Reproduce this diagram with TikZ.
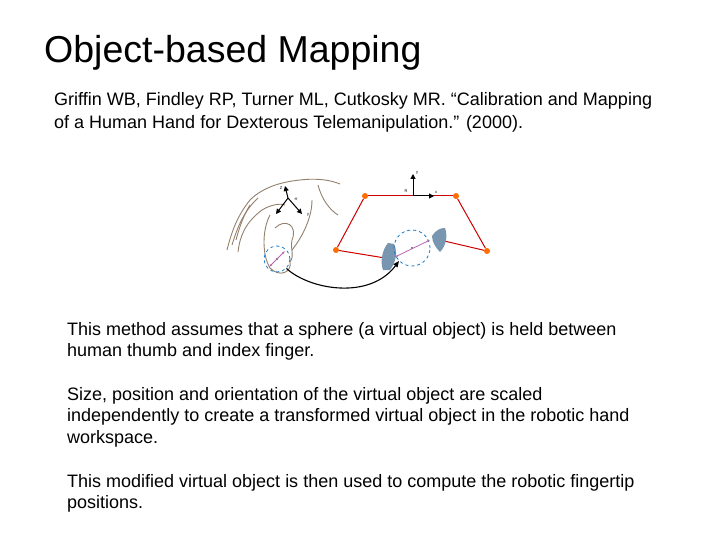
\documentclass[tikz,border=0pt]{standalone}
\usepackage{fontspec}
\setmainfont{Liberation Sans}
\usetikzlibrary{arrows.meta}
\definecolor{fingc}{RGB}{120,150,175}
\begin{document}
\begin{tikzpicture}[x=1pt,y=-1pt,
  txt/.style={anchor=north west,inner sep=0pt,align=left,font=\fontsize{18}{21.5}\selectfont},
  joint/.style={circle,fill=orange!85!red,inner sep=0pt,minimum size=6pt},
  link/.style={red!80!black,line width=1pt},
  hand/.style={gray!70!brown,line width=0.9pt},
  frame/.style={-{Triangle[length=5pt,width=5pt]},line width=1pt},
  grip/.style={draw=cyan!60!blue,dashed,line width=0.8pt},
  fing/.style={fill=fingc,draw=none}]
\useasboundingbox (0,0) rectangle (720,540);
\node[anchor=west,inner sep=0pt,font=\fontsize{37.5}{40}\selectfont] (title) at (44,53) {Object-based Mapping};
\node[txt,font=\fontsize{18}{23}\selectfont] (cite) at (54,92) {Griffin WB, Findley RP, Turner ML, Cutkosky MR. “Calibration and Mapping\\of a Human Hand for Dexterous Telemanipulation.” (2000).};
\node[txt] (p1) at (67,322) {This method assumes that a sphere (a virtual object) is held between\\human thumb and index finger.};
\node[txt] (p2) at (67,387) {Size, position and orientation of the virtual object are scaled\\independently to create a transformed virtual object in the robotic hand\\workspace.};
\node[txt] (p3) at (67,474) {This modified virtual object is then used to compute the robotic fingertip\\positions.};
% hand outline
\draw[hand] (227,250) .. controls (232,230) and (238,215) .. (250,200) .. controls (262,188) and (280,182) .. (300,180) .. controls (318,178) and (330,180) .. (340,184);
\draw[hand] (232,245) .. controls (238,225) and (245,210) .. (258,198);
\draw[hand] (238,252) .. controls (240,235) and (246,222) .. (262,210) .. controls (270,205) and (280,203) .. (285,205);
\draw[hand] (270,215) .. controls (262,230) and (262,255) .. (270,268) .. controls (280,278) and (292,272) .. (290,262);
\draw[hand] (275,228) .. controls (285,218) and (298,225) .. (292,240) .. controls (290,250) and (295,255) .. (290,262);
\draw[hand] (318,185) .. controls (322,200) and (330,210) .. (338,215);
\draw[hand] (312,200) .. controls (312,220) and (300,240) .. (292,250);
\draw[hand] (250,205) .. controls (244,215) and (240,225) .. (236,240);
% hand frame
\coordinate (ho) at (288,198);
\coordinate (hz) at (285,186);
\coordinate (hx) at (276,214);
\coordinate (hy) at (302,214);
\draw[frame] (ho) -- (hz); \draw[frame] (ho) -- (hx); \draw[frame] (ho) -- (hy);
\node[font=\fontsize{4}{4}\selectfont,inner sep=0pt] (hzl) at (281,188) {Z};
\node[font=\fontsize{4}{4}\selectfont,inner sep=0pt] (hol) at (296,199) {$\pi$};
\node[font=\fontsize{4}{4}\selectfont,inner sep=0pt] (hyl) at (308,215) {y};
% hand sphere
\node[circle,grip,minimum size=26pt,inner sep=0pt] (hs) at (277,259) {};
\node[fill=gray,inner sep=1.3pt] (hc) at (277,259) {};
\draw[violet!60,{Latex[length=3pt]}-{Latex[length=3pt]},line width=0.8pt] (269,267) -- (285,251);
% robot
\node[joint] (j1) at (365,196) {};
\node[joint] (j2) at (456,196) {};
\node[joint] (j0) at (336,250) {};
\node[joint] (j3) at (487,251) {};
\coordinate (lf) at (385,258);
\coordinate (rf) at (440,240);
\draw[link] (j0) -- (lf); \draw[link] (j1) -- (j0); \draw[link] (j1) -- (j2); \draw[link] (j2) -- (j3); \draw[link] (j3) -- (rf);
\fill[fing] (388,243) .. controls (382,250) and (380,262) .. (383,270) -- (390,270) .. controls (396,262) and (398,252) .. (394,244) -- cycle;
\fill[fing] (432,236) .. controls (436,230) and (440,228) .. (445,228) .. controls (448,236) and (446,246) .. (440,252) .. controls (436,248) and (432,242) .. (432,236) -- cycle;
\node[circle,grip,minimum size=36pt,inner sep=0pt] (rs) at (412,248) {};
\node[fill=gray,inner sep=1.3pt] (rc) at (412,248) {};
\draw[violet!60,{Latex[length=3pt]}-{Latex[length=3pt]},line width=0.8pt] (395,257) -- (430,240);
\coordinate (ro) at (413,196);
\coordinate (ry) at (413,174);
\coordinate (rx) at (434,196);
\draw[frame] (ro) -- (ry); \draw[frame] (ro) -- (rx);
\node[font=\fontsize{4}{4}\selectfont,inner sep=0pt] (ryl) at (417,173) {y};
\node[font=\fontsize{4}{4}\selectfont,inner sep=0pt] (rxl) at (436,192) {x};
\node[font=\fontsize{4}{4}\selectfont,inner sep=0pt] (rol) at (406,191) {R};
% mapping arrow
\draw[-{Triangle[length=6pt,width=5pt]},line width=1.1pt] (hs.south east) .. controls (310,290) and (370,300) .. (rs.south west);
\end{tikzpicture}
\end{document}
